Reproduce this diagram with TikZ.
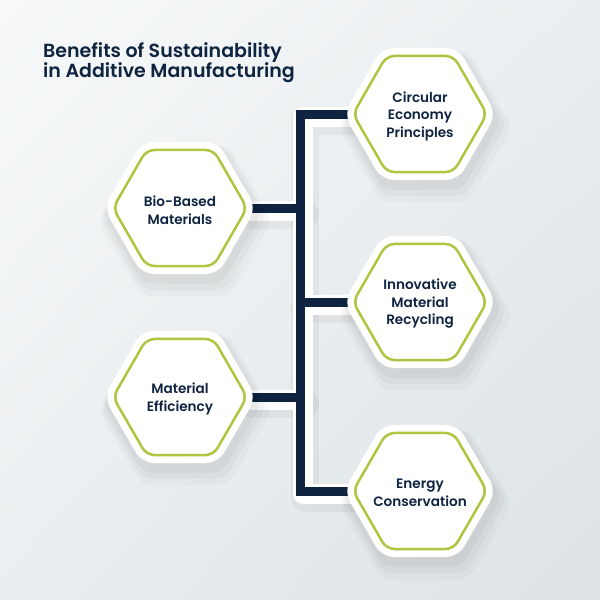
\documentclass[tikz,border=0pt]{standalone}
\usepackage{fontspec}
\setmainfont{Poppins}[UprightFont=* Medium, BoldFont=* SemiBold]
\usetikzlibrary{shapes.geometric,shadows,shadings}
\definecolor{navy}{HTML}{0F2441}
\definecolor{lime}{HTML}{AEC63F}
\definecolor{bgA}{HTML}{F7F9FA}
\definecolor{bgC}{HTML}{EBEEF0}
\definecolor{bgB}{HTML}{DCE2E5}
\pgfdeclarelayer{bg}\pgfdeclarelayer{lines}
\pgfsetlayers{bg,lines,main}
\tikzset{
  hexnode/.style={regular polygon, regular polygon sides=6, minimum size=134pt,
    inner sep=0pt, draw=lime, line width=2.5pt, fill=white, rounded corners=8pt,
    general shadow={fill=black, opacity=0.025, shadow scale=1.30, shadow xshift=4pt, shadow yshift=-10pt},
    general shadow={fill=black, opacity=0.03, shadow scale=1.24, shadow xshift=3pt, shadow yshift=-8pt},
    general shadow={fill=black, opacity=0.035, shadow scale=1.18, shadow xshift=2pt, shadow yshift=-6pt},
    preaction={draw=white, line width=16pt}},
  hextext/.style={align=center, text=navy, inner sep=0pt, font=\bfseries\fontsize{13.6}{17.5}\selectfont},
  conn/.style={draw=navy, line width=9pt, line join=miter, line cap=butt},
  band/.style={draw=white, line width=20pt, line join=round, line cap=round},
  bandshadow/.style={draw=black, opacity=0.04, line width=28pt, line join=round, line cap=round},
  titletext/.style={font=\bfseries\fontsize{19}{20}\selectfont, text=navy, align=left, inner sep=0pt}
}
\begin{document}
\begin{tikzpicture}[x=1pt,y=-1pt]
\useasboundingbox (0,0) rectangle (600,600);
\begin{pgfonlayer}{bg}
  \shade[upper left=bgA, upper right=bgC, lower left=bgC, lower right=bgB] (0,0) rectangle (600,600);
\end{pgfonlayer}

\node[titletext, anchor=north west] (title) at (43,42) {Benefits of Sustainability\\in Additive Manufacturing};

\node[hexnode] (circ)  at (420,114) {};
\node[hexnode] (innov) at (420,302) {};
\node[hexnode] (enrg)  at (420,491) {};
\node[hexnode] (bio)   at (180,208) {};
\node[hexnode] (meff)  at (180,397) {};

\node[hextext] (circT)  at ([yshift=-2pt]circ)  {Circular\\Economy\\Principles};
\node[hextext] (innovT) at ([yshift=-2pt]innov) {Innovative\\Material\\Recycling};
\node[hextext] (enrgT)  at ([yshift=-2pt]enrg)  {Energy\\Conservation};
\node[hextext] (bioT)   at ([yshift=-2pt]bio)   {Bio-Based\\Materials};
\node[hextext] (meffT)  at ([yshift=-2pt]meff)  {Material\\Efficiency};

\coordinate (tTop) at (300,114);
\coordinate (tBot) at (300,491);

\begin{pgfonlayer}{lines}
  \begin{scope}[transform canvas={shift={(5pt,-7pt)}}]
    \draw[bandshadow] (circ.west) -- (tTop) -- (tBot) -- (enrg.west);
    \draw[bandshadow] (bio.east) -- (bio.east -| tTop);
    \draw[bandshadow] (innov.west) -- (innov.west -| tTop);
    \draw[bandshadow] (meff.east) -- (meff.east -| tTop);
  \end{scope}
  \begin{scope}[transform canvas={shift={(3pt,-3pt)}}]
    \draw[band] (circ.west) -- (tTop) -- (tBot) -- (enrg.west);
    \draw[band] (bio.east) -- (bio.east -| tTop);
    \draw[band] (innov.west) -- (innov.west -| tTop);
    \draw[band] (meff.east) -- (meff.east -| tTop);
  \end{scope}
  \draw[conn] (circ.west) -- (tTop) -- (tBot) -- (enrg.west);
  \draw[conn] (bio.east) -- (bio.east -| tTop);
  \draw[conn] (innov.west) -- (innov.west -| tTop);
  \draw[conn] (meff.east) -- (meff.east -| tTop);
\end{pgfonlayer}
\end{tikzpicture}
\end{document}
